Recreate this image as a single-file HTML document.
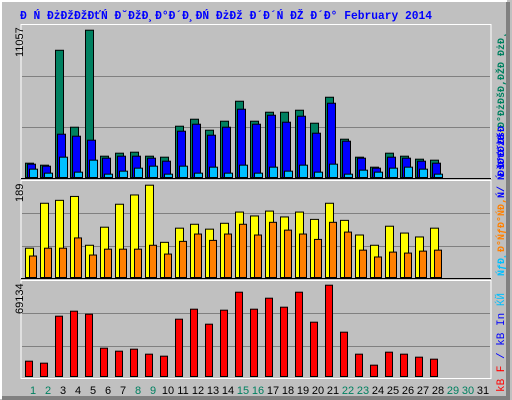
<!DOCTYPE html>
<html><head><meta charset="utf-8"><style>
html,body{margin:0;padding:0;background:#c0c0c0;}
svg{display:block;}
</style></head><body>
<svg width="512" height="400" viewBox="0 0 512 400" xmlns="http://www.w3.org/2000/svg">
<rect x="0" y="0" width="512" height="400" fill="#c0c0c0"/>
<path d="M1 399 V1 H507" stroke="#ffffff" stroke-width="2" fill="none"/>
<path d="M508 2 V398 H2" stroke="#808080" stroke-width="4" fill="none"/>
<text x="20" y="19" font-family="Liberation Mono, monospace" font-weight="bold" font-size="12" fill="#0000ff" textLength="412" lengthAdjust="spacingAndGlyphs">Đ Ń ĐżĐžĐžĐťŃ Đ˘ĐžĐ¸Đ°Đ´Đ¸ĐŃ ĐżĐž Đ´Đ´Ń ĐŽ Đ´Đ° February 2014</text>
<g id="frames"></g>
<g id="bars"></g>
<g id="xlabels"></g>
<text transform="translate(23,57) rotate(-90)" font-family="Liberation Sans, sans-serif" font-size="11" fill="#000">11057</text>
<text transform="translate(23,202) rotate(-90)" font-family="Liberation Sans, sans-serif" font-size="11" fill="#000">189</text>
<text transform="translate(23,314) rotate(-90)" font-family="Liberation Sans, sans-serif" font-size="11" fill="#000">69134</text>
<text transform="translate(504,176) rotate(-90)" font-family="Liberation Mono, monospace" font-weight="bold" font-size="10"><tspan fill="#0000ff">ĐšĐťĐżĐ</tspan><tspan fill="#ffff00">/</tspan><tspan fill="#008060">Đ°ĐżĐšĐ‚ĐŽĐ ĐżĐ˛</tspan></text>
<text transform="translate(504,276) rotate(-90)" font-family="Liberation Mono, monospace" font-weight="bold" font-size="10"><tspan fill="#00bfff">ŃƒĐ¸</tspan><tspan fill="#ff8000">Đ°ŃƒĐ°ŃĐ‚</tspan><tspan fill="#0000ff">Ń/ Ń Đ°Đ˘ĐšĐ</tspan></text>
<text transform="translate(504,392) rotate(-90)" font-family="Liberation Mono, monospace" font-size="11"><tspan fill="#ff0000">kB F</tspan><tspan fill="#0000ff"> / kB In </tspan><tspan fill="#00bfff">ЌЙ</tspan></text>
</svg>
<script>
const days = [1,2,3,4,5,6,7,8,9,10,11,12,13,14,15,16,17,18,19,20,21,22,23,24,25,26,27,28,29,30,31];
const weekend = [1,2,8,9,15,16,22,23,29,30];
const hits = [1075,925,9550,3775,11057,1600,1825,1900,1600,1525,3850,4375,3550,4225,5725,4225,4900,4900,5050,4075,6025,2875,1525,775,1825,1600,1375,1300];
const files = [1000,850,3250,3100,2800,1450,1600,1600,1450,1225,3475,4000,3175,3775,5125,4000,4675,4150,4600,3325,5575,2725,1450,700,1525,1450,1225,1075];
const pages = [625,325,1525,400,1300,250,475,700,850,250,850,325,775,325,925,325,775,475,925,400,1000,250,550,400,700,775,625,250];
const visits = [60,152,158,166,66,103,150,169,189,72,101,109,99,111,134,126,136,124,134,119,152,117,87,66,105,91,83,101];
const sites = [44,60,60,81,46,58,58,58,66,48,74,89,76,89,109,87,113,97,89,78,113,93,56,42,52,50,54,56];
const kbytes = [11606,10092,45668,49453,47182,21446,19175,20689,16905,15391,43397,50966,39612,50210,63834,50966,59292,52480,63834,41126,69134,33557,16905,8578,18419,16905,14634,13120];
const maxHits = 11057, maxVisits = 189, maxKB = 69134;

const NS = 'http://www.w3.org/2000/svg';
function mk(tag, attrs, parent){const e=document.createElementNS(NS,tag);for(const k in attrs)e.setAttribute(k,attrs[k]);parent.appendChild(e);return e;}
function xDay(d){return 25 + 15*(d-1);}
function yScale(v,max,base,h){return base - v/max*h;}

const frames = document.getElementById('frames');
const panels = [[24,178],[180,278],[280,378]];
const grids = [[76,127],[213,246],[313,346]];
panels.forEach((p,i)=>{
  const r = mk('rect',{x:21,y:p[0]+0.5,width:470,height:p[1]-p[0],fill:'none',stroke:'#ffffff','stroke-width':1},frames);
  
  
  grids[i].forEach(g=>{
    const l = mk('line',{x1:22,x2:490,y1:g+0.5,y2:g+0.5,stroke:'#808080','stroke-width':1},frames);
    
    
  });
});
mk('line',{x1:21,x2:491,y1:178.5,y2:178.5,stroke:'#000','stroke-width':1},frames);
mk('line',{x1:21,x2:491,y1:278.5,y2:278.5,stroke:'#000','stroke-width':1},frames);

const bars = document.getElementById('bars');
function bar(x,w,v,max,base,h,fill,name){
  const y = yScale(v,max,base,h);
  const r = mk('rect',{x:x+0.5,y:y+0.5,width:w,height:Math.max(base-y,1),fill:fill,stroke:'#000','stroke-width':1},bars);
  
  
}
for(let i=0;i<hits.length;i++){
  const x = xDay(i+1);
  bar(x,8,hits[i],maxHits,177,147.3,'#008060','bar-hits-day'+(i+1));
  bar(x+2,8,files[i],maxHits,177,147.3,'#0000ff','bar-files-day'+(i+1));
  bar(x+4,8,pages[i],maxHits,177,147.3,'#00c0ff','bar-pages-day'+(i+1));
  bar(x,8,visits[i],maxVisits,277,92.3,'#ffff00','bar-visits-day'+(i+1));
  bar(x+4,7,sites[i],maxVisits,277,92.3,'#ff8000','bar-sites-day'+(i+1));
  bar(x,7,kbytes[i],maxKB,376,91.3,'#ff0000','bar-kbytes-day'+(i+1));
}

const xl = document.getElementById('xlabels');
days.forEach(d=>{
  const t = mk('text',{x:xDay(d)+8,y:394,'text-anchor':'middle','font-family':'Liberation Sans, sans-serif','font-size':'11',fill:weekend.includes(d)?'#008060':'#000'},xl);
  t.textContent = d;
  
  
});
</script>
</body></html>
